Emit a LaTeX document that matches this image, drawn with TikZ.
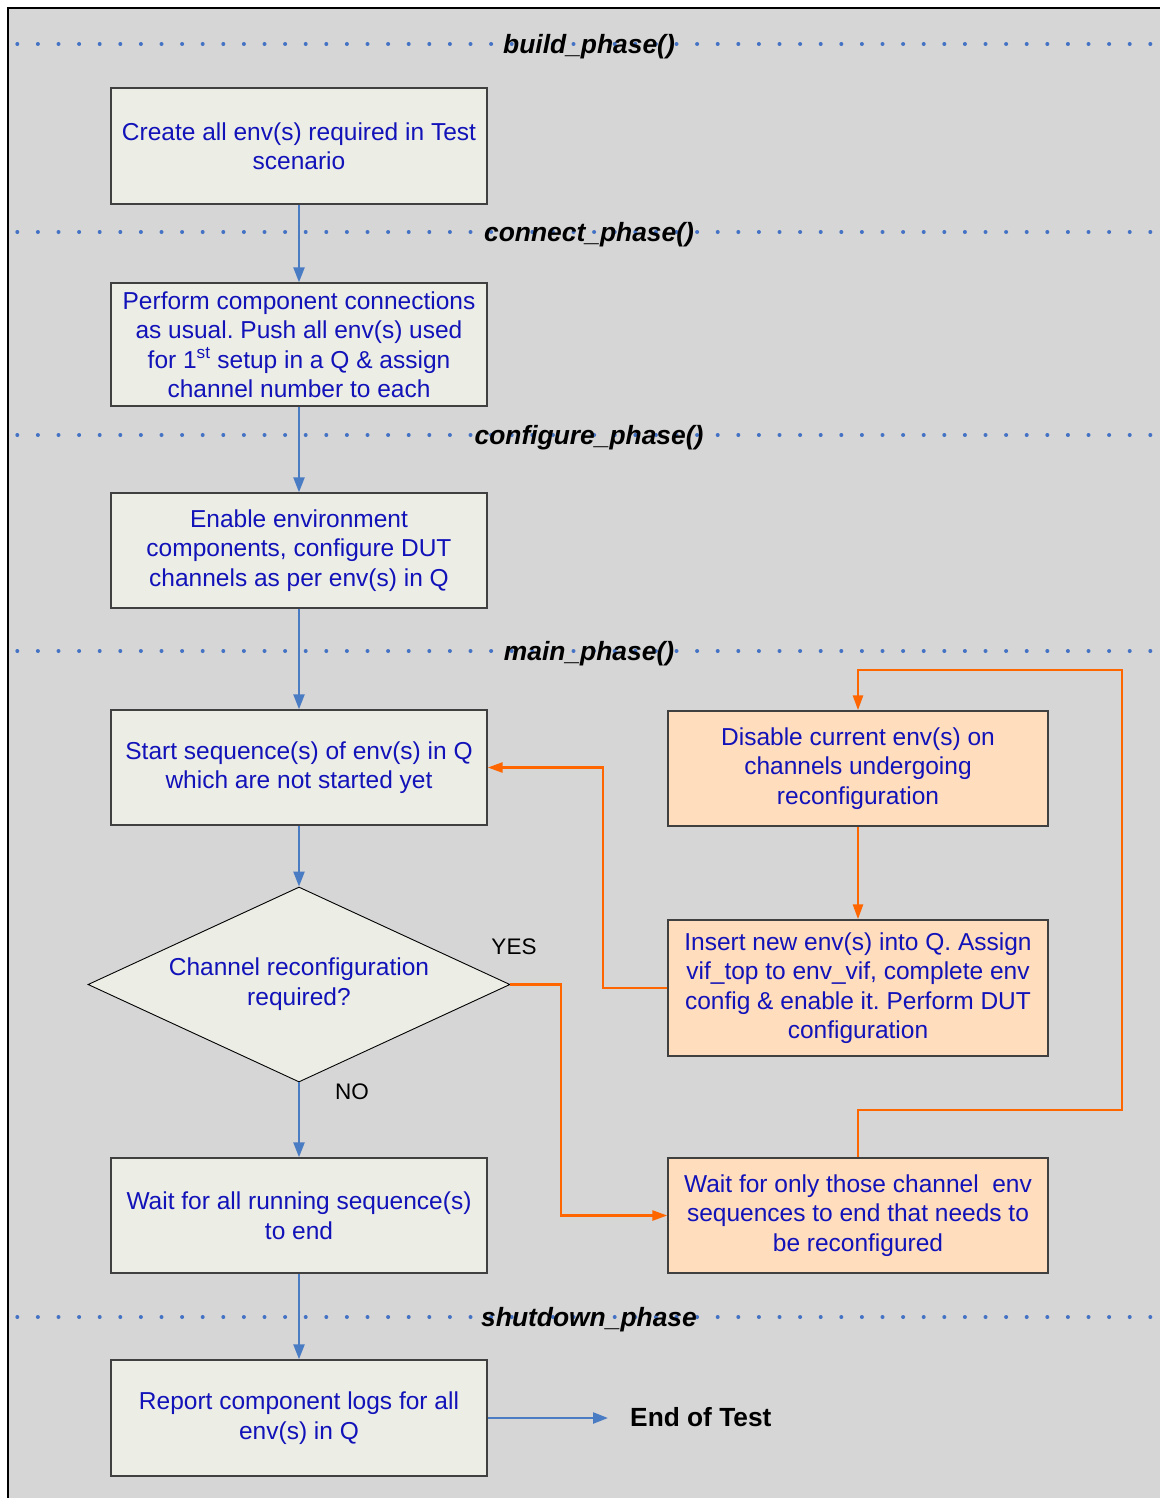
\documentclass[tikz,border=0pt]{standalone}
\usepackage{fontspec}
\setmainfont{Liberation Sans}
\usetikzlibrary{arrows.meta,shapes.geometric}
\frenchspacing

\definecolor{panel}{RGB}{214,214,214}
\definecolor{boxfill}{RGB}{236,238,230}
\definecolor{peach}{RGB}{255,221,189}
\definecolor{boxline}{RGB}{64,64,64}
\definecolor{txtblue}{RGB}{18,18,185}
\definecolor{flowblue}{RGB}{74,124,196}
\definecolor{flowora}{RGB}{255,102,0}
\definecolor{dotblue}{RGB}{68,114,196}

\tikzset{
  x=1pt, y=-1pt,
  stepbox/.style={draw=boxline, line width=1.4pt, fill=boxfill, text=txtblue,
    minimum width=376pt, minimum height=116pt, inner sep=0pt, align=center,
    font=\fontsize{24.5}{29.5}\selectfont},
  rebox/.style={stepbox, fill=peach, minimum width=380pt},
  decision/.style={draw=black, line width=0.9pt, fill=boxfill, text=txtblue,
    shape=diamond, shape aspect=2.164, minimum width=422pt, minimum height=195pt,
    inner sep=0pt, align=center, font=\fontsize{24.5}{30}\selectfont},
  phaseline/.style={dotblue, line width=4pt, line cap=round,
    dash pattern=on 0pt off 20.6pt},
  phaselabel/.style={font=\fontsize{26.4}{30}\selectfont\bfseries\itshape, text=black, inner sep=0pt},
  blueflow/.style={flowblue, line width=2.4pt, -{Triangle[length=15pt,width=11pt]}},
  oraflow/.style={flowora, line width=2.6pt, -{Triangle[length=15pt,width=10pt]}},
  answer/.style={font=\fontsize{22.5}{26}\selectfont, text=black, inner sep=0pt},
}

\begin{document}
\begin{tikzpicture}
  % canvas and grey panel
  \useasboundingbox (0,0) rectangle (1159,1498);
  \fill[white] (0,0) rectangle (1159,1498);
  \fill[panel] (8,8) rectangle (1165,1505);
  \draw[black, line width=2.6pt] (8,1505) -- (8,8) -- (1165,8);

  % phase separators
  \foreach \yy in {44,232,435,651,1317}
    \draw[phaseline] (17.3,\yy) -- (1165,\yy);
  \node[phaselabel] (pbuild) at (589,46.5) {build\_phase()};
  \node[phaselabel] (pconnect) at (589,234.5) {connect\_phase()};
  \node[phaselabel] (pconfig) at (589,437.5) {configure\_phase()};
  \node[phaselabel] (pmain) at (589,653.5) {main\_phase()};
  \node[phaselabel] (pshut) at (589,1319.5) {shutdown\_phase};

  % main column
  \node[stepbox] (create) at (299,146) {Create all env(s) required in Test\\scenario};
  \node[stepbox, minimum height=123pt] (perform) at (299,344.5)
    {Perform component connections\\as usual. Push all env(s) used\\for 1\textsuperscript{st} setup in a Q \& assign\\channel number to each};
  \node[stepbox, minimum height=115pt] (enable) at (299,550.5)
    {Enable environment\\components, configure DUT\\channels as per env(s) in Q};
  \node[stepbox, minimum height=115pt] (start) at (299,767.5)
    {Start sequence(s) of env(s) in Q\\which are not started yet};
  \node[decision] (dec) at (299,984.5) {Channel reconfiguration\\required?};
  \node[stepbox, minimum height=115pt] (waitall) at (299,1215.5)
    {Wait for all running sequence(s)\\to end};
  \node[stepbox] (report) at (299,1418)
    {Report component logs for all\\env(s) in Q};

  % reconfiguration column
  \node[rebox, minimum height=115pt] (disable) at (858,768.5)
    {Disable current env(s) on\\channels undergoing\\reconfiguration};
  \node[rebox, minimum height=136pt] (insert) at (858,988)
    {Insert new env(s) into Q. Assign\\vif\_top to env\_vif, complete env\\config \& enable it. Perform DUT\\configuration};
  \node[rebox, minimum height=115pt] (waitsome) at (858,1215.5)
    {Wait for only those channel\ \ env\\sequences to end that needs to\\be reconfigured};

  % end marker
  \node[font=\fontsize{26.3}{30}\selectfont\bfseries, text=black, inner sep=0pt, anchor=west] (eot) at (630,1417) {End of Test};
  \coordinate (eotin) at (608,1418);

  % answers
  \node[answer] (yes) at (514,947) {YES};
  \node[answer] (no) at (352,1092) {NO};

  % main flow
  \draw[blueflow] (create) -- (perform);
  \draw[blueflow] (perform) -- (enable);
  \draw[blueflow] (enable) -- (start);
  \draw[blueflow] (start) -- (dec);
  \draw[blueflow] (dec) -- (waitall);
  \draw[blueflow] (waitall) -- (report);
  \draw[blueflow] (report.east) -- (eotin);

  % reconfiguration loop
  \draw[oraflow] (dec.east) -- (561,984.5) |- (waitsome.west);
  \draw[oraflow] (insert.west) -- (603,988) |- (start.east);
  \draw[oraflow] (waitsome.north) |- (1122,1110) |- (858,670) -- (disable.north);
  \draw[oraflow] (disable) -- (insert);
\end{tikzpicture}
\end{document}
